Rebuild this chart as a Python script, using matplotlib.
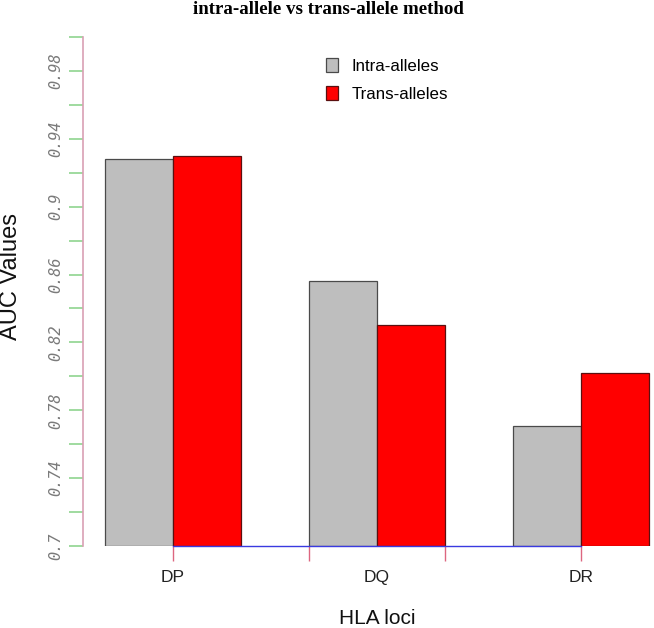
import matplotlib
matplotlib.use("Agg")
import matplotlib.pyplot as plt
from matplotlib.ticker import FixedLocator
from matplotlib.patches import Patch

# ---- data ----
loci = ["DP", "DQ", "DR"]
intra_auc = [0.928, 0.856, 0.771]
trans_auc = [0.930, 0.830, 0.802]
series_names = ["Intra-alleles", "Trans-alleles"]
ytick_vals = [0.70, 0.72, 0.74, 0.76, 0.78, 0.80, 0.82, 0.84, 0.86, 0.88, 0.90, 0.92, 0.94, 0.96, 0.98, 1.00]
ytick_labels = ["0.7", "", "0.74", "", "0.78", "", "0.82", "", "0.86", "", "0.9", "", "0.94", "", "0.98", ""]

W, H = 654, 628
fig = plt.figure(figsize=(W / 100, H / 100), dpi=100)
ax = fig.add_axes([83 / W, 82 / H, (671 - 83) / W, (546 - 37) / H])

SANS = ["Liberation Sans", "DejaVu Sans"]

# R-style barplot positions: bars of width 1, groups separated by 1
base = 0.7
intra_x = [1 + 3 * i for i in range(len(loci))]
trans_x = [2 + 3 * i for i in range(len(loci))]
ax.bar(intra_x, [v - base for v in intra_auc], bottom=base, width=1, align="edge",
       color="#bebebe", edgecolor="#4a4a4a", linewidth=0.9, zorder=2)
ax.bar(trans_x, [v - base for v in trans_auc], bottom=base, width=1, align="edge",
       color="#ff0000", edgecolor="#5a1010", linewidth=0.9, zorder=2)

ax.set_xlim(0.68, 9.32)
ax.set_ylim(0.7, 1.0)

for s in ["top", "right"]:
    ax.spines[s].set_visible(False)
ax.spines["left"].set_color("#d9a0b4")
ax.spines["left"].set_linewidth(1.2)
ax.spines["left"].set_bounds(0.7, 1.0)
ax.spines["bottom"].set_color("#3a3ae0")
ax.spines["bottom"].set_linewidth(1.0)
ax.spines["bottom"].set_bounds(2, 8)
ax.spines["bottom"].set_zorder(3)

# y ticks
ax.yaxis.set_major_locator(FixedLocator(ytick_vals))
ax.set_yticklabels(ytick_labels, rotation=90, va="center",
                   family=["DejaVu Sans Mono"], style="italic", fontsize=11, color="#7a7a7a")
ax.tick_params(axis="y", which="major", length=10, width=1.2, color="#8fd48f", pad=4)

# x ticks: marks at 2,4,6,8; labels at group centres
group_centres = [2 + 3 * i for i in range(len(loci))]
ax.xaxis.remove_overlapping_locs = False
ax.xaxis.set_major_locator(FixedLocator(group_centres))
ax.set_xticklabels(loci, family=SANS, fontsize=12.5, color="#222222")
ax.xaxis.set_minor_locator(FixedLocator([2, 4, 6, 8]))
ax.tick_params(axis="x", which="major", length=0, pad=17)
ax.tick_params(axis="x", which="minor", length=11, width=1.0, color="#dd6680")

# titles / labels
fig.text(328 / W, 1 - 14.5 / H, "intra-allele vs trans-allele method",
         family=["Liberation Serif", "DejaVu Serif"], weight="bold", fontsize=13.6,
         ha="center", va="baseline")
fig.text(11 / W, 1 - 277 / H, "AUC Values", rotation=90, family=SANS, fontsize=17,
         ha="center", va="center", color="#111111")
fig.text(377 / W, 1 - 618.5 / H, "HLA loci", family=SANS, fontsize=15,
         ha="center", va="center", color="#111111")

handles = [Patch(facecolor="#bebebe", edgecolor="#4a4a4a", linewidth=0.9),
           Patch(facecolor="#ff0000", edgecolor="#5a1010", linewidth=0.9)]
leg = fig.legend(handles, series_names, loc="upper left",
                 bbox_to_anchor=(326 / W, 1 - 58 / H), frameon=False,
                 prop={"family": SANS, "size": 12.2}, handlelength=0.68, handleheight=0.85,
                 handletextpad=0.85, labelspacing=0.75, borderpad=0, borderaxespad=0)

fig.savefig("out.png", dpi=100)
